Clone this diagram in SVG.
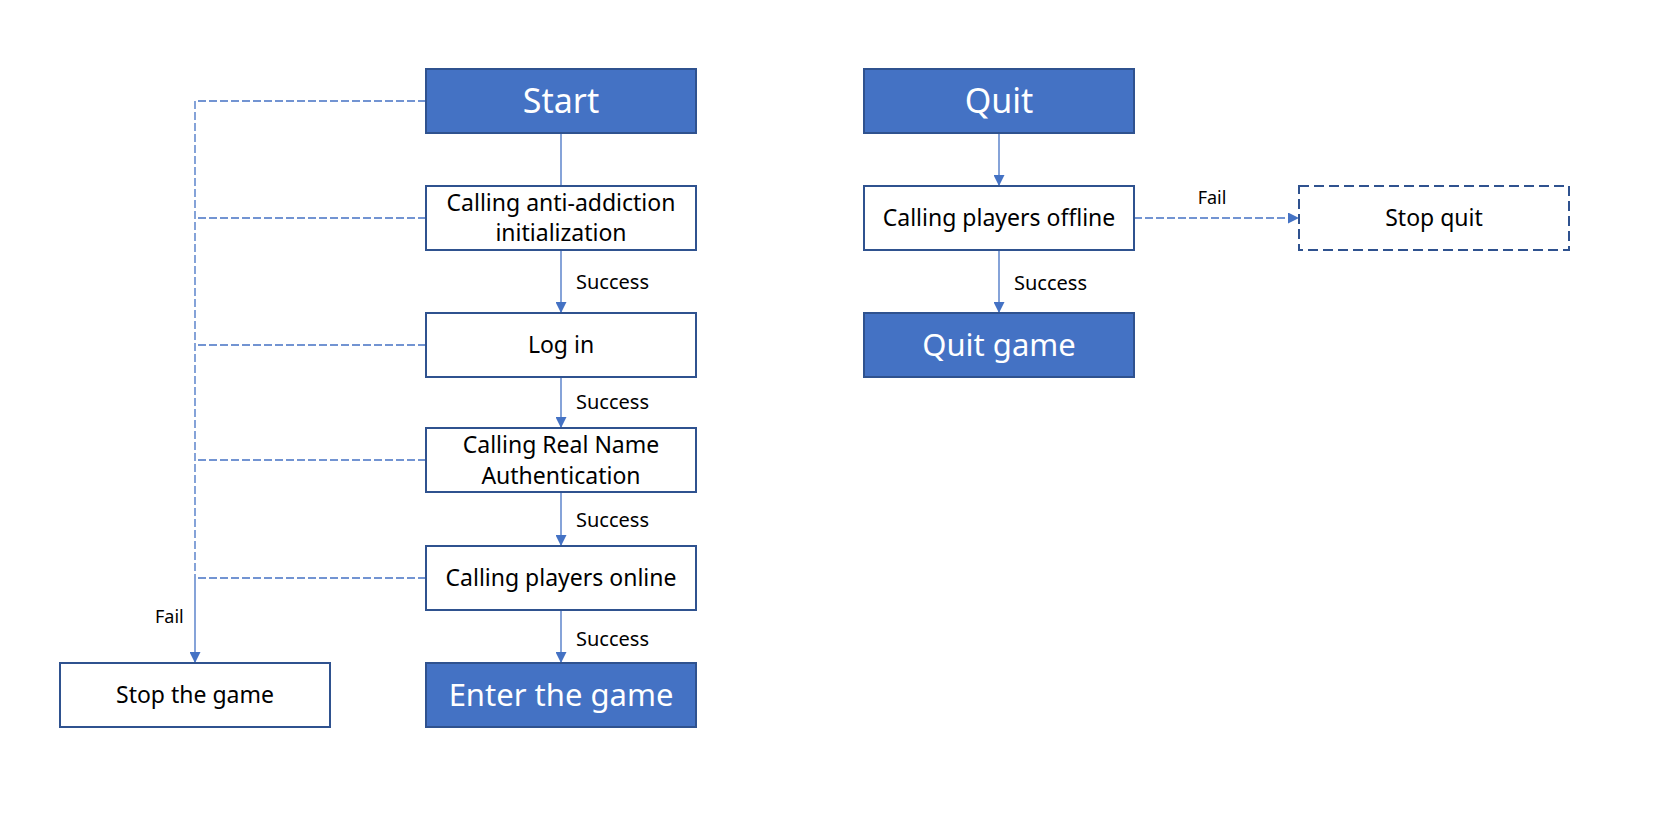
<svg xmlns="http://www.w3.org/2000/svg" width="1678" height="814" viewBox="0 0 1678 814">
<style>
.box{fill:#fff;stroke:#2F528F;stroke-width:2}
.fill{fill:#4472C4;stroke:#2F528F;stroke-width:2}
.dbox{fill:#fff;stroke:#2F528F;stroke-width:2;stroke-dasharray:10 5}
.t{font-family:"Noto Sans",sans-serif;font-size:23px;fill:#000;text-anchor:middle}
.big{font-family:"Noto Sans",sans-serif;font-size:31px;fill:#fff;text-anchor:middle}
.big2{font-family:"Noto Sans",sans-serif;font-size:34px;fill:#fff;text-anchor:middle}
.lbl{font-family:"Noto Sans",sans-serif;font-size:18px;fill:#000}
.suc{font-family:"Noto Sans",sans-serif;font-size:20px;fill:#000}
.c{stroke:#4472C4;stroke-width:1.3;fill:none}
.d{stroke:#4472C4;stroke-width:1.3;fill:none;stroke-dasharray:8 3}
</style>
<defs>
<marker id="arr" markerUnits="userSpaceOnUse" markerWidth="11" markerHeight="11" refX="11" refY="5.5" orient="auto">
<path d="M0,0 L11,5.5 L0,11 z" fill="#4472C4"/>
</marker>
</defs>
<rect width="1678" height="814" fill="#fff"/>
<g id="connectors">
<line class="c" x1="561" y1="133" x2="561" y2="186"/>
<line class="c" x1="561" y1="250" x2="561" y2="313" marker-end="url(#arr)"/>
<line class="c" x1="561" y1="377" x2="561" y2="428" marker-end="url(#arr)"/>
<line class="c" x1="561" y1="492" x2="561" y2="546" marker-end="url(#arr)"/>
<line class="c" x1="561" y1="610" x2="561" y2="663" marker-end="url(#arr)"/>
<line class="c" x1="999" y1="133" x2="999" y2="186" marker-end="url(#arr)"/>
<line class="c" x1="999" y1="250" x2="999" y2="313" marker-end="url(#arr)"/>
<line class="d" x1="1134" y1="218" x2="1299" y2="218" marker-end="url(#arr)"/>
<line class="d" x1="426" y1="101" x2="195" y2="101"/>
<line class="d" x1="426" y1="218" x2="195" y2="218"/>
<line class="d" x1="426" y1="345" x2="195" y2="345"/>
<line class="d" x1="426" y1="460" x2="195" y2="460"/>
<line class="d" x1="426" y1="578" x2="195" y2="578"/>
<line class="d" x1="195" y1="101" x2="195" y2="578"/>
<line class="c" x1="195" y1="578" x2="195" y2="663" marker-end="url(#arr)"/>
<text class="suc" x="576" y="289">Success</text>
<text class="suc" x="576" y="409">Success</text>
<text class="suc" x="576" y="527">Success</text>
<text class="suc" x="576" y="646">Success</text>
<text class="suc" x="1014" y="290">Success</text>
<text class="lbl" x="1212" y="204" text-anchor="middle">Fail</text>
<text class="lbl" x="155" y="623">Fail</text>
</g>
<g id="start"><rect class="fill" x="426" y="69" width="270" height="64"/><text class="big2" x="561" y="113">Start</text></g>
<g id="anti"><rect class="box" x="426" y="186" width="270" height="64"/><text class="t" x="561" y="211">Calling anti-addiction</text><text class="t" x="561" y="241">initialization</text></g>
<g id="login"><rect class="box" x="426" y="313" width="270" height="64"/><text class="t" x="561" y="353">Log in</text></g>
<g id="realname"><rect class="box" x="426" y="428" width="270" height="64"/><text class="t" x="561" y="453">Calling Real Name</text><text class="t" x="561" y="484">Authentication</text></g>
<g id="online"><rect class="box" x="426" y="546" width="270" height="64"/><text class="t" x="561" y="586">Calling players online</text></g>
<g id="enter"><rect class="fill" x="426" y="663" width="270" height="64"/><text class="big" x="561" y="706">Enter the game</text></g>
<g id="stopgame"><rect class="box" x="60" y="663" width="270" height="64"/><text class="t" x="195" y="703">Stop the game</text></g>
<g id="quit"><rect class="fill" x="864" y="69" width="270" height="64"/><text class="big2" x="999" y="113">Quit</text></g>
<g id="offline"><rect class="box" x="864" y="186" width="270" height="64"/><text class="t" x="999" y="226">Calling players offline</text></g>
<g id="quitgame"><rect class="fill" x="864" y="313" width="270" height="64"/><text class="big" x="999" y="356">Quit game</text></g>
<g id="stopquit"><rect class="dbox" x="1299" y="186" width="270" height="64"/><text class="t" x="1434" y="226">Stop quit</text></g>
</svg>
